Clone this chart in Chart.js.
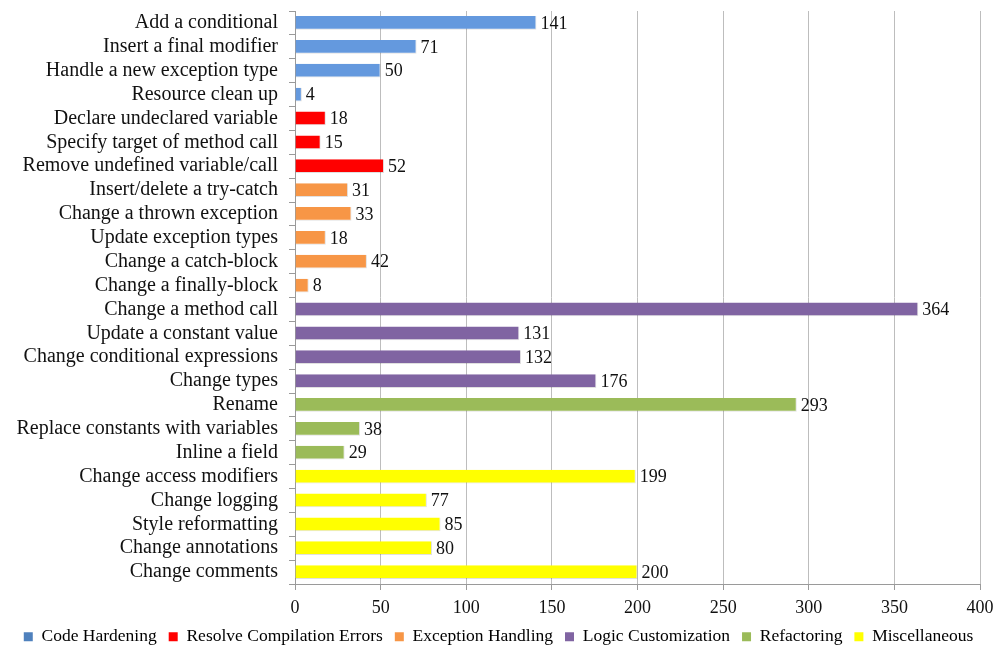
<!DOCTYPE html>
<html>
<head>
<meta charset="utf-8">
<title>Change categories</title>
<script src="https://cdn.jsdelivr.net/npm/chart.js@4/dist/chart.umd.min.js"></script>
<style>
  html, body { margin: 0; padding: 0; background: #fff; }
  #wrap { width: 997px; height: 647px; position: relative; }
</style>
</head>
<body>
<div id="wrap"><canvas id="chart"></canvas></div>
<script>
// ── DATA ─────────────────────────────────────────────────────
const categories = [
  'Add a conditional', 'Insert a final modifier', 'Handle a new exception type', 'Resource clean up',
  'Declare undeclared variable', 'Specify target of method call', 'Remove undefined variable/call',
  'Insert/delete a try-catch', 'Change a thrown exception', 'Update exception types', 'Change a catch-block', 'Change a finally-block',
  'Change a method call', 'Update a constant value', 'Change conditional expressions', 'Change types',
  'Rename', 'Replace constants with variables', 'Inline a field',
  'Change access modifiers', 'Change logging', 'Style reformatting', 'Change annotations', 'Change comments',
];

const groupNames = ['Code Hardening', 'Resolve Compilation Errors', 'Exception Handling', 'Logic Customization', 'Refactoring', 'Miscellaneous'];

// values per group, in category order
const codeHardening     = [141, 71, 50, 4];
const compileErrors     = [18, 15, 52];
const exceptionHandling = [31, 33, 18, 42, 8];
const logicCustom       = [364, 131, 132, 176];
const refactoring       = [293, 38, 29];
const miscellaneous     = [199, 77, 85, 80, 200];

const xTicks = [0, 50, 100, 150, 200, 250, 300, 350, 400];

// ── STYLE ────────────────────────────────────────────────────
const SERIF = '"Liberation Serif", "DejaVu Serif", serif';
const barColors = ['#6499de', '#ff0000', '#f79646', '#8064a2', '#9bbb59', '#ffff00'];
const legendColors = ['#4f81bd', '#ff0000', '#f79646', '#8064a2', '#9bbb59', '#ffff00'];

// spread each group over the full category list (nulls elsewhere)
const groups = [codeHardening, compileErrors, exceptionHandling, logicCustom, refactoring, miscellaneous];
let offset = 0;
const datasets = groups.map((vals, i) => {
  const data = categories.map(() => null);
  vals.forEach((v, j) => { data[offset + j] = v; });
  offset += vals.length;
  return {
    label: groupNames[i],
    data,
    backgroundColor: barColors[i],
    borderColor: 'rgba(0,0,0,0.12)',
    borderWidth: { top: 0, bottom: 1, left: 0, right: 1 },
    borderSkipped: false,
    categoryPercentage: 0.58,
    barPercentage: 1,
  };
});

// value labels at bar ends
const valueLabels = {
  id: 'valueLabels',
  afterDatasetsDraw(chart) {
    const { ctx } = chart;
    ctx.save();
    ctx.font = '18px ' + SERIF;
    ctx.fillStyle = '#111';
    ctx.textBaseline = 'middle';
    ctx.textAlign = 'left';
    chart.data.datasets.forEach((ds, di) => {
      chart.getDatasetMeta(di).data.forEach((bar, i) => {
        if (ds.data[i] == null) return;
        ctx.fillText(ds.data[i], bar.x + 4, bar.y + 1);
      });
    });
    ctx.restore();
  },
};

// legend box: fixed height so the row sits low under the axis
const legendHeight = {
  id: 'legendHeight',
  afterInit(chart) {
    const lg = chart.legend;
    if (!lg) return;
    const fit = lg.fit.bind(lg);
    lg.fit = function () { fit(); this.height = 31; };
  },
};

new Chart(document.getElementById('chart'), {
  type: 'bar',
  data: { labels: categories, datasets },
  plugins: [valueLabels, legendHeight],
  options: {
    indexAxis: 'y',
    responsive: true,
    maintainAspectRatio: false,
    animation: false,
    layout: { padding: { top: 11, right: 0, left: 0, bottom: 0 } },
    plugins: {
      tooltip: { enabled: false },
      legend: {
        position: 'bottom',
        labels: {
          color: '#111',
          font: { family: SERIF, size: 17.5 },
          boxWidth: 9,
          boxHeight: 9,
          padding: 12,
          generateLabels: () => groupNames.map((name, i) => ({
            text: name,
            fillStyle: legendColors[i],
            strokeStyle: legendColors[i],
            lineWidth: 0,
            datasetIndex: i,
            hidden: false,
          })),
        },
      },
    },
    scales: {
      x: {
        stacked: true,
        min: 0,
        max: 400,
        afterBuildTicks: (s) => { s.ticks = xTicks.map(v => ({ value: v })); },
        afterFit: (s) => { s.height = 32; s.paddingRight = 17; },
        grid: { color: '#bdbdbd', lineWidth: 1, tickLength: 6, tickColor: '#9a9a9a' },
        border: { color: '#9a9a9a' },
        ticks: { color: '#111', font: { family: SERIF, size: 18 }, padding: 7 },
      },
      y: {
        stacked: true,
        afterFit: (s) => { s.width = 295; s.paddingTop = 0; s.paddingBottom = 0; },
        grid: { drawOnChartArea: false, offset: true, tickLength: 6, tickColor: '#9a9a9a' },
        border: { color: '#9a9a9a' },
        ticks: { color: '#111', font: { family: SERIF, size: 20 }, padding: 11, autoSkip: false },
      },
    },
  },
});
</script>
</body>
</html>
